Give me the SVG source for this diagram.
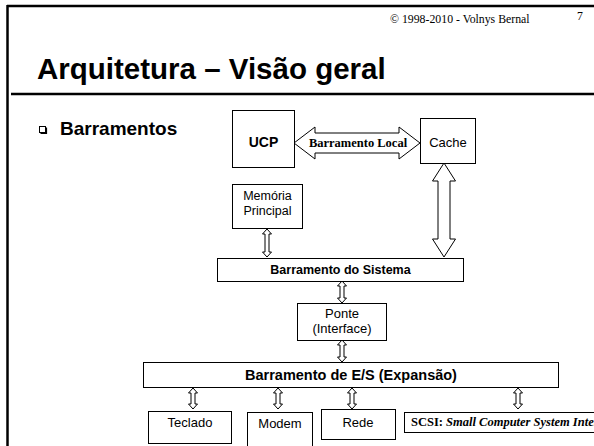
<svg xmlns="http://www.w3.org/2000/svg" width="594" height="446" viewBox="0 0 594 446">
<style>
.box{fill:#fff;stroke:#000;stroke-width:1}
.arr{fill:#fff;stroke:#000;stroke-width:1;stroke-linejoin:miter}
.t{font-family:"Liberation Sans",Arial,sans-serif;fill:#000;text-anchor:middle}
.b{font-weight:bold}
.s{font-family:"Liberation Serif","Times New Roman",serif;fill:#000}
</style>
<rect width="594" height="446" fill="#fff"/>
<g id="frame" stroke="#000" fill="none">
<line x1="7" y1="6" x2="594" y2="6" stroke-width="2.5"/>
<line x1="7.5" y1="5" x2="7.5" y2="446" stroke-width="2.5"/>
<line x1="11" y1="94" x2="594" y2="94" stroke-width="2.5"/>
</g>
<text class="s" x="390" y="23" font-size="11.8">© 1998-2010 - Volnys Bernal</text>
<text class="s" x="577" y="20" font-size="11.8">7</text>
<text x="37" y="79" font-family="Liberation Sans,Arial,sans-serif" font-weight="bold" font-size="29.5">Arquitetura – Visão geral</text>
<g id="bullet">
<rect x="39.5" y="126.5" width="6" height="6" fill="#fff" stroke="#000" stroke-width="1"/>
<polyline points="40.5,133.5 46.5,133.5 46.5,127.5" fill="none" stroke="#000" stroke-width="1.2"/>
</g>
<text x="60" y="135" font-family="Liberation Sans,Arial,sans-serif" font-weight="bold" font-size="19">Barramentos</text>
<g id="connectors">
<path class="arr" d="M294,143 L315,127 L315,133 L399,133 L399,127 L420,143 L399,159 L399,153 L315,153 L315,159 Z"/>
<path class="arr" d="M444,163 L455.5,181 L450,181 L450,239 L455.5,239 L444,257 L432.5,239 L438,239 L438,181 L432.5,181 Z"/>
<path class="arr" d="M267,229 L271.5,234 L269,234 L269,252 L271.5,252 L267,257 L262.5,252 L265,252 L265,234 L262.5,234 Z"/>
<path class="arr" d="M342,281 L346.5,286 L344,286 L344,298 L346.5,298 L342,303 L337.5,298 L340,298 L340,286 L337.5,286 Z"/>
<path class="arr" d="M342,340 L346.5,345 L344,345 L344,357 L346.5,357 L342,362 L337.5,357 L340,357 L340,345 L337.5,345 Z"/>
<path class="arr" d="M193,388 L197.5,393 L195,393 L195,404 L197.5,404 L193,409 L188.5,404 L191,404 L191,393 L188.5,393 Z"/>
<path class="arr" d="M278,388 L282.5,393 L280,393 L280,404 L282.5,404 L278,409 L273.5,404 L276,404 L276,393 L273.5,393 Z"/>
<path class="arr" d="M352,388 L356.5,393 L354,393 L354,404 L356.5,404 L352,409 L347.5,404 L350,404 L350,393 L347.5,393 Z"/>
<path class="arr" d="M518,388 L522.5,393 L520,393 L520,404 L522.5,404 L518,409 L513.5,404 L516,404 L516,393 L513.5,393 Z"/>
<text class="s" x="358" y="147" font-size="12.5" font-weight="bold" text-anchor="middle">Barramento Local</text>
</g>
<g id="ucp">
<rect class="box" x="232.5" y="110.5" width="62" height="57"/>
<text class="t b" x="263.5" y="147" font-size="14">UCP</text>
</g>
<g id="cache">
<rect class="box" x="420.5" y="118.5" width="55" height="45"/>
<text class="t" x="448" y="147" font-size="13">Cache</text>
</g>
<g id="memoria">
<rect class="box" x="232.5" y="184.5" width="70" height="44"/>
<text class="t" x="267.5" y="200" font-size="12.5">Memória</text>
<text class="t" x="267.5" y="215" font-size="12.5">Principal</text>
</g>
<g id="sistema">
<rect class="box" x="217.5" y="258.5" width="246" height="23"/>
<text class="t b" x="340.5" y="274" font-size="12.5">Barramento do Sistema</text>
</g>
<g id="ponte">
<rect class="box" x="297.5" y="303.5" width="89" height="37"/>
<text class="t" x="342" y="318" font-size="13">Ponte</text>
<text class="t" x="342" y="333" font-size="13">(Interface)</text>
</g>
<g id="es">
<rect class="box" x="143.5" y="362.5" width="415" height="25"/>
<text class="t b" x="351" y="380" font-size="14.5">Barramento de E/S (Expansão)</text>
</g>
<g id="teclado">
<rect class="box" x="148.5" y="411.5" width="83" height="32"/>
<text class="t" x="190" y="427" font-size="13">Teclado</text>
</g>
<g id="modem">
<rect class="box" x="247.5" y="412.5" width="65" height="40"/>
<text class="t" x="280" y="428" font-size="13">Modem</text>
</g>
<g id="rede">
<rect class="box" x="321.5" y="409.5" width="74" height="30"/>
<text class="t" x="358" y="427" font-size="13">Rede</text>
</g>
<g id="scsi">
<rect class="box" x="404.5" y="412.5" width="220" height="20"/>
<text class="s" x="411" y="426" font-size="12.5" font-weight="bold">SCSI: <tspan font-style="italic">Small Computer System Interface</tspan></text>
</g>
</svg>
